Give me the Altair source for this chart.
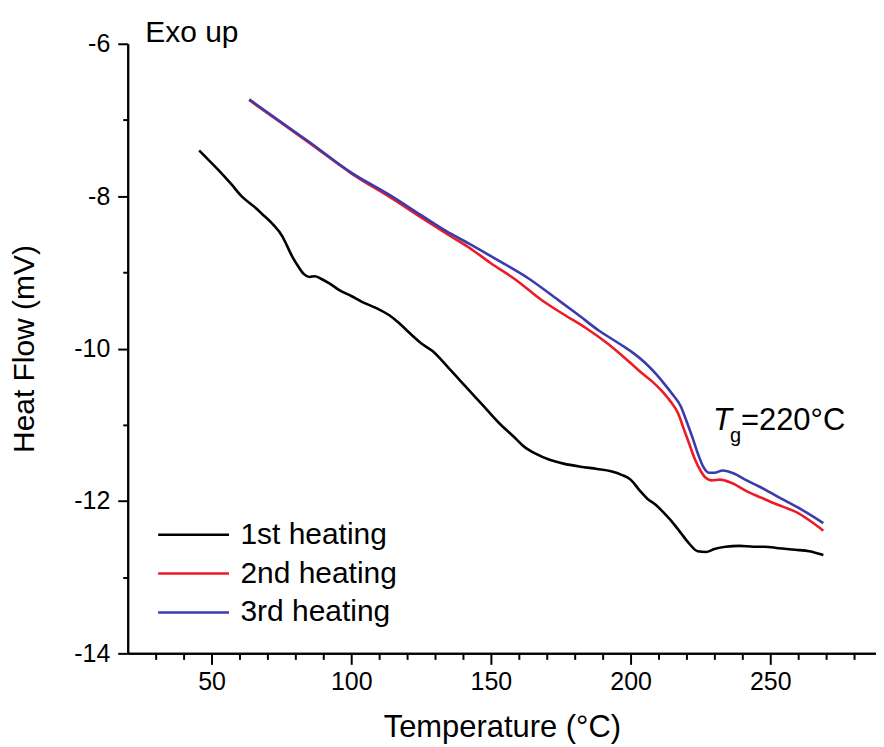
import altair as alt
import pandas as pd

# ---- data ----
series_names = ["1st heating", "2nd heating", "3rd heating"]
series_colors = ["#000000", "#ed1c24", "#3a3cae"]

t1 = [45.6, 52, 57, 61, 65, 68, 72, 75.4, 77, 79, 81, 83, 85, 87, 89, 92, 95.6, 100, 104, 109,
      113.5, 117, 121, 125, 129, 135, 141, 147, 153, 158, 162, 166, 171, 176, 182, 188, 193,
      197, 200, 203, 206, 209, 212, 215, 218, 221, 224, 227, 230, 234, 239, 244, 248, 253,
      259, 264, 269]
h1 = [-7.40, -7.64, -7.84, -8.01, -8.13, -8.23, -8.37, -8.53, -8.65, -8.80, -8.92, -9.02,
      -9.06, -9.05, -9.08, -9.14, -9.23, -9.31, -9.39, -9.47, -9.56, -9.66, -9.80, -9.93,
      -10.03, -10.26, -10.50, -10.74, -10.98, -11.15, -11.29, -11.38, -11.46, -11.51, -11.55,
      -11.58, -11.61, -11.66, -11.72, -11.85, -11.97, -12.05, -12.16, -12.28, -12.42, -12.56,
      -12.66, -12.67, -12.63, -12.60, -12.59, -12.60, -12.60, -12.62, -12.64, -12.66, -12.71]

t2 = [63.5, 75, 85, 100, 115, 125, 134, 142, 150, 159, 168, 176, 184, 192, 200, 204, 208,
      211, 214, 217, 219, 221, 223, 225, 227, 229, 232, 236, 242, 247, 252, 260, 265, 269]
h2 = [-6.74, -7.04, -7.30, -7.70, -8.04, -8.28, -8.49, -8.67, -8.88, -9.10, -9.36, -9.55,
      -9.73, -9.94, -10.19, -10.32, -10.44, -10.55, -10.68, -10.85, -11.05, -11.25, -11.45,
      -11.60, -11.70, -11.73, -11.72, -11.76, -11.88, -11.96, -12.04, -12.16, -12.28, -12.39]

t3 = [63.5, 75, 85, 100, 114, 125, 134, 142, 152, 163.5, 174, 181, 188.5, 197, 201, 205,
      209, 212, 215, 218, 220, 222, 224, 226, 228, 230, 233, 237, 241, 246, 255, 262, 269]
h3 = [-6.73, -7.03, -7.29, -7.69, -7.99, -8.25, -8.46, -8.62, -8.83, -9.08, -9.36, -9.55,
      -9.76, -9.96, -10.06, -10.18, -10.33, -10.46, -10.60, -10.76, -10.95, -11.15, -11.37,
      -11.55, -11.63, -11.63, -11.60, -11.64, -11.72, -11.81, -11.99, -12.13, -12.29]

x_major = [50, 100, 150, 200, 250]
x_minor = [30, 40, 60, 70, 80, 90, 110, 120, 130, 140, 160, 170, 180, 190, 210, 220, 230,
           240, 260, 270, 280]
y_major = [-14, -12, -10, -8, -6]
y_minor = [-13, -11, -9, -7]

FONT = "Liberation Sans"
W, H = 750, 611
PX_PER_C = 2.8

rows = []
for name, ts, hs in zip(series_names, [t1, t2, t3], [h1, h2, h3]):
    for t, h in zip(ts, hs):
        rows.append({"T": t, "HF": h, "run": name})
df = pd.DataFrame(rows)

xscale = alt.Scale(domain=[20, 20 + W / PX_PER_C], nice=False, zero=False)
yscale = alt.Scale(domain=[-14, -6], nice=False, zero=False)

axis_common = dict(grid=False, domainColor="black", domainWidth=2, tickColor="black",
                   tickWidth=2, labelColor="black", labelFont=FONT, titleFont=FONT,
                   titleColor="black", titleFontWeight="normal")

x_major_axis = alt.Axis(values=x_major, orient="bottom", tickSize=11, labelFontSize=25,
                        labelPadding=5, title="Temperature (°C)", titleFontSize=31,
                        titlePadding=18, **axis_common)
y_major_axis = alt.Axis(values=y_major, orient="left", tickSize=10, labelFontSize=25,
                        labelPadding=8, labelExpr="'' + datum.value",
                        title="Heat Flow (mV)", titleFontSize=30, titlePadding=34,
                        **axis_common)
x_minor_axis = alt.Axis(values=x_minor, orient="bottom", tickSize=6, labels=False,
                        title="", **axis_common)
y_minor_axis = alt.Axis(values=y_minor, orient="left", tickSize=5, labels=False,
                        title="", **axis_common)

lines = alt.Chart(df).mark_line(strokeWidth=2.6, interpolate="monotone").encode(
    x=alt.X("T:Q", scale=xscale, axis=x_major_axis),
    y=alt.Y("HF:Q", scale=yscale, axis=y_major_axis),
    color=alt.Color("run:N",
                    scale=alt.Scale(domain=series_names, range=series_colors),
                    legend=alt.Legend(title=None, orient="none", legendX=29, legendY=477,
                                      symbolType="stroke", symbolSize=5041,
                                      symbolStrokeWidth=2.5, clipHeight=30,
                                      rowPadding=9, labelFontSize=30, labelFont=FONT,
                                      labelColor="black", labelOffset=10, labelLimit=400,
                                      padding=0)),
    order=alt.Order("T:Q"),
)

minor = alt.Chart(df).mark_point(opacity=0).encode(
    x=alt.X("T:Q", scale=xscale, axis=x_minor_axis),
    y=alt.Y("HF:Q", scale=yscale, axis=y_minor_axis),
)

ann_text = ["Exo up", "T", "g", "=220°C"]
ann_x = [26.3, 229.5, 235.6, 239.5]
ann_y = [-5.98, -11.07, -11.23, -11.07]
ann_size = [30, 31, 20, 31]
ann_style = ["normal", "italic", "normal", "normal"]
ann = pd.DataFrame({"text": ann_text, "x": ann_x, "y": ann_y, "size": ann_size,
                    "style": ann_style})

labels = []
for i in range(len(ann)):
    labels.append(
        alt.Chart(ann.iloc[[i]]).mark_text(align="left", baseline="alphabetic", font=FONT,
                                           fontSize=int(ann_size[i]),
                                           fontStyle=ann_style[i], color="black").encode(
            x=alt.X("x:Q", scale=xscale, axis=None),
            y=alt.Y("y:Q", scale=yscale, axis=None),
            text="text:N",
        )
    )

chart = alt.layer(lines, minor, *labels).resolve_axis(
    x="independent", y="independent"
).properties(
    width=W, height=H,
    background="white",
    autosize=alt.AutoSizeParams(type="none"),
    padding={"left": 120, "top": 35, "right": 0, "bottom": 90},
).configure_view(strokeWidth=0, strokeOpacity=0)

chart.save("out.html", embed_options={"renderer": "svg", "actions": False})
